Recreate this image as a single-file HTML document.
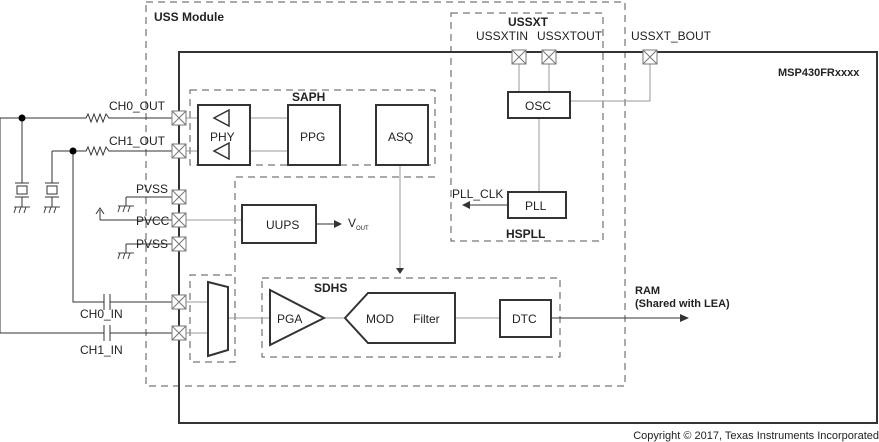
<!DOCTYPE html>
<html><head><style>body{margin:0;background:#fff}svg{display:block;font-family:"Liberation Sans",Arial,sans-serif}</style></head><body>
<svg width="879" height="442" viewBox="0 0 879 442" xmlns="http://www.w3.org/2000/svg">
<defs>
<g id="pad"><rect x="-7" y="-7" width="14" height="14" fill="#fff" stroke="#777" stroke-width="1"/><path d="M-7-7L7 7M7-7L-7 7" stroke="#777"/></g>
<g id="gnd"><path d="M-8 0H8M-6 0l-2 6M-1 0l-2 6M4 0l-2 6" stroke="#444" fill="none"/></g>
</defs>
<g fill="none" stroke="#555" stroke-dasharray="7,5" stroke-width="1">
<rect x="146" y="2" width="479" height="384"/>
<rect x="451" y="13" width="152" height="228"/>
<rect x="190" y="90" width="245" height="75"/>
<path d="M435 177H235V362H190V275H235"/>
<rect x="262" y="278" width="298" height="79"/>
</g>
<rect x="179" y="52" width="698" height="371" fill="none" stroke="#333" stroke-width="2"/>
<g stroke="#999" fill="none">
<path d="M186 118H198M186 151H198M250 118H288M250 151H288M186 220H242M186 302H208M186 333H208M228 318H270M324 318H345M455 318H500M400 165V270M539 118V192M519 64V92M549 64V92M570 101H650V64"/>
</g>
<g stroke="#333" fill="none" stroke-width="1">
<path d="M0 118H86l2-4 3 8 3-8 3 8 3-8 3 8 3-8 3 4H172"/>
<path d="M52 151H86l2-4 3 8 3-8 3 8 3-8 3 8 3-8 3 4H172"/>
<path d="M0 118V333H104M110 333H172M104 325v16M110 325v16"/>
<path d="M73 151V302H104M110 302H172M104 294v16M110 294v16"/>
<path d="M22 118V183M52 151V183M15 183h14M15 197h14M45 183h14M45 197h14M22 197v10M52 197v10"/>
<rect x="17" y="186" width="10" height="8"/><rect x="47" y="186" width="10" height="8"/>
<path d="M126 197h46M126 197v9M100 220H172M100 220V210M96 214l4-6 4 6M126 244h46M126 244v9"/>
<path d="M316 224H334M551 318H680M508 205H470"/>
</g>
<use href="#gnd" x="22" y="207"/><use href="#gnd" x="52" y="207"/><use href="#gnd" x="126" y="206"/><use href="#gnd" x="126" y="253"/>
<circle cx="22" cy="118" r="3.5" fill="#000"/><circle cx="73" cy="151" r="3.5" fill="#000"/>
<path d="M334 220l8 4-8 4zM680 314l9 4-9 4zM470 201l-8 4 8 4zM288 130l9-4v8zM396 268l4 6 4-6z" fill="#333"/>
<g stroke="#333" stroke-width="2" fill="#fff">
<rect x="198" y="105" width="52" height="60"/>
<rect x="288" y="105" width="52" height="60"/>
<rect x="376" y="105" width="52" height="60"/>
<rect x="508" y="92" width="62" height="26"/>
<rect x="508" y="192" width="58" height="26"/>
<rect x="242" y="205" width="74" height="38"/>
<rect x="500" y="300" width="51" height="37"/>
<path d="M270 290L324 318L270 345Z"/>
<path d="M345 318L368 293H455V343H368Z"/>
<path d="M208 282L228 287V350L208 356Z"/>
<path d="M229 110L214 118L229 126ZM229 143L214 151L229 159Z" stroke-width="1.5"/>
</g>
<g>
<use href="#pad" x="179" y="118"/><use href="#pad" x="179" y="151"/><use href="#pad" x="179" y="197"/><use href="#pad" x="179" y="220"/><use href="#pad" x="179" y="244"/><use href="#pad" x="179" y="302"/><use href="#pad" x="179" y="333"/>
<use href="#pad" x="519" y="57"/><use href="#pad" x="549" y="57"/><use href="#pad" x="650" y="57"/>
</g>
<g font-size="12" fill="#222">
<text x="154" y="21" font-weight="bold">USS Module</text>
<text x="508" y="26" font-weight="bold">USSXT</text>
<text x="476" y="40">USSXTIN</text><text x="537" y="40">USSXTOUT</text><text x="631" y="40">USSXT_BOUT</text>
<text x="778" y="76" font-weight="bold" font-size="11">MSP430FRxxxx</text>
<text x="292" y="101" font-weight="bold">SAPH</text>
<text x="109" y="110">CH0_OUT</text><text x="109" y="145">CH1_OUT</text>
<text x="210" y="141">PHY</text><text x="300" y="141">PPG</text><text x="388" y="141">ASQ</text>
<text x="525" y="110">OSC</text><text x="525" y="210">PLL</text>
<text x="452" y="198">PLL_CLK</text>
<text x="506" y="238" font-weight="bold">HSPLL</text>
<text x="136" y="193">PVSS</text><text x="136" y="225">PVCC</text><text x="136" y="248">PVSS</text>
<text x="266" y="229">UUPS</text>
<text x="348" y="227">V<tspan font-size="6" dy="3">OUT</tspan></text>
<text x="314" y="292" font-weight="bold">SDHS</text>
<text x="277" y="323">PGA</text><text x="366" y="323">MOD</text><text x="413" y="323">Filter</text>
<text x="512" y="323">DTC</text>
<text x="635" y="294" font-weight="bold" font-size="11">RAM</text>
<text x="635" y="307" font-weight="bold" font-size="11">(Shared with LEA)</text>
<text x="80" y="318">CH0_IN</text><text x="80" y="354">CH1_IN</text>
<text x="879" y="439" text-anchor="end" font-size="11">Copyright © 2017, Texas Instruments Incorporated</text>
</g>
</svg>
</body></html>
